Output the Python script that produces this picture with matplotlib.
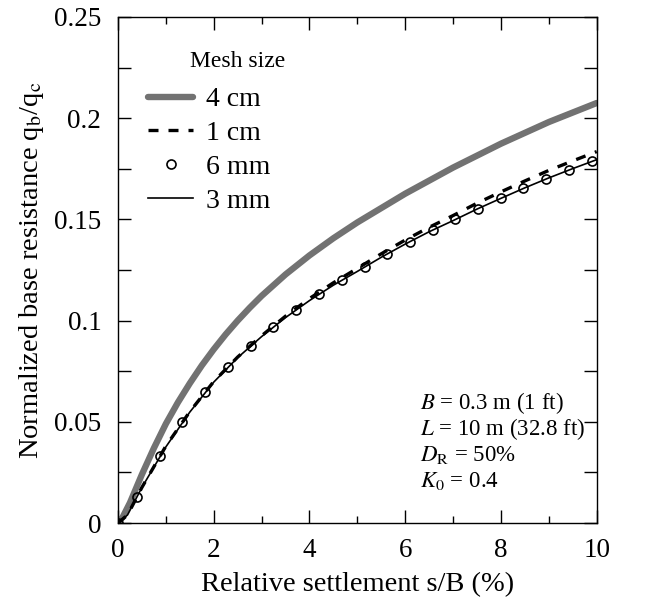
import matplotlib
matplotlib.use("Agg")
import matplotlib.pyplot as plt
from matplotlib.ticker import MultipleLocator, FixedLocator, FixedFormatter

plt.rcParams["font.family"] = ["Liberation Serif", "DejaVu Serif"]
plt.rcParams["mathtext.fontset"] = "stix"

# Mesh size 4 cm
x_4cm = [0, 0.1, 0.25, 0.5, 0.75, 1, 1.25, 1.5, 1.75, 2, 2.25, 2.5, 2.75, 3, 3.5,
         4, 4.5, 5, 6, 7, 8, 9, 10]
y_4cm = [0, 0.003, 0.010, 0.024, 0.037, 0.0490, 0.0595, 0.0690, 0.0778, 0.0858,
         0.0932, 0.1000, 0.1063, 0.1122, 0.1228, 0.1322, 0.1407, 0.1485, 0.1627,
         0.1756, 0.1874, 0.1981, 0.2075]

# Mesh size 1 cm
x_1cm = [0, 0.2, 0.5, 1, 1.5, 2, 2.5, 3, 3.5, 4, 4.5, 5, 5.5, 6, 6.5, 7, 7.5, 8,
         8.5, 9, 9.5, 10]
y_1cm = [0, 0.004, 0.0176, 0.038, 0.055, 0.0699, 0.082, 0.0925, 0.1022, 0.1109,
         0.1187, 0.1258, 0.1330, 0.1398, 0.1461, 0.1519, 0.1580, 0.1636, 0.1690,
         0.1742, 0.1789, 0.1835]

# Mesh size 6 mm (markers)
x_6mm = [0, 0.39, 0.87, 1.34, 1.82, 2.29, 2.77, 3.24, 3.72, 4.19, 4.67, 5.15, 5.62,
         6.10, 6.57, 7.05, 7.52, 8.0, 8.47, 8.95, 9.43, 9.9]
y_6mm = [0, 0.013, 0.033, 0.0497, 0.0649, 0.0772, 0.0874, 0.097, 0.1053, 0.113,
         0.12, 0.1263, 0.133, 0.139, 0.1447, 0.150, 0.1553, 0.1604, 0.1653, 0.170,
         0.1745, 0.1788]

# Mesh size 3 mm
x_3mm = [0, 0.2, 0.5, 1, 1.5, 2, 2.5, 3, 3.5, 4, 4.5, 5, 5.5, 6, 6.5, 7, 7.5, 8,
         8.5, 9, 9.5, 10]
y_3mm = [0, 0.004, 0.0176, 0.0376, 0.0548, 0.0696, 0.0817, 0.0921, 0.1015, 0.1099,
         0.1175, 0.1243, 0.1313, 0.1378, 0.1439, 0.1494, 0.1551, 0.1604, 0.1656,
         0.1705, 0.1751, 0.1795]

series_labels = ["4 cm", "1 cm", "6 mm", "3 mm"]
legend_title = "Mesh size"
y_tick_values = [0, 0.05, 0.1, 0.15, 0.2, 0.25]
y_tick_labels = ["0", "0.05", "0.1", "0.15", "0.2", "0.25"]
x_tick_values = [0, 2, 4, 6, 8, 10]
x_tick_labels = ["0", "2", "4", "6", "8", "10"]
case_lines = [r"$B$ = 0.3 m (1 ft)", r"$L$ = 10 m (32.8 ft)",
              r"$D_\mathrm{R}$ = 50%", r"$K_0$ = 0.4"]

fig = plt.figure(figsize=(6.54, 6.02), dpi=100)
ax = fig.add_axes([0.1804, 0.1312, 0.7320, 0.8406])

h4, = ax.plot(x_4cm, y_4cm, color="#727272", lw=4.6, solid_capstyle="round",
              label=series_labels[0], zorder=2)
h1, = ax.plot(x_1cm, y_1cm, color="black", lw=2.4, dashes=(3, 3),
              label=series_labels[1], zorder=3)
h6, = ax.plot(x_6mm, y_6mm, ls="none", marker="o", ms=6.5, mfc="none",
              mec="black", mew=1.2, label=series_labels[2], zorder=4)
h3, = ax.plot(x_3mm, y_3mm, color="black", lw=1.2, label=series_labels[3], zorder=3)

ax.set_xlim(0, 10)
ax.set_ylim(0, 0.25)
ax.xaxis.set_major_locator(FixedLocator(x_tick_values))
ax.xaxis.set_major_formatter(FixedFormatter(x_tick_labels))
ax.xaxis.set_minor_locator(MultipleLocator(1))
ax.yaxis.set_major_locator(FixedLocator(y_tick_values))
ax.yaxis.set_major_formatter(FixedFormatter(y_tick_labels))
ax.yaxis.set_minor_locator(MultipleLocator(0.025))

ax.tick_params(which="both", direction="in", top=True, right=True, width=1.0,
               labelsize=19.5, colors="black")
ax.tick_params(axis="x", which="major", length=9.5, pad=11)
ax.tick_params(axis="x", which="minor", length=5)
ax.tick_params(axis="y", which="both", length=9.5)
ax.tick_params(axis="y", which="major", pad=12)
for s in ax.spines.values():
    s.set_linewidth(1.0)

ax.set_xlabel("Relative settlement s/B (%)", fontsize=20.5, labelpad=6)
ax.set_ylabel(r"Normalized base resistance q$_\mathrm{b}$/q$_\mathrm{c}$",
              fontsize=20.5, labelpad=6)

ax.legend(handles=[h4, h1, h6, h3], loc="upper left",
          bbox_to_anchor=(0.063, 0.862), frameon=False, fontsize=20,
          handlelength=1.62, handletextpad=0.47, labelspacing=0.3,
          borderpad=0, borderaxespad=0)
ax.text(0.249, 0.913, legend_title, transform=ax.transAxes, fontsize=17,
        ha="center", va="center")

for i, line in enumerate(case_lines):
    ax.text(0.631, 0.237 - i * 0.0515, line, transform=ax.transAxes,
            fontsize=16.5, va="center", ha="left")

fig.savefig("out.png", dpi=100)
